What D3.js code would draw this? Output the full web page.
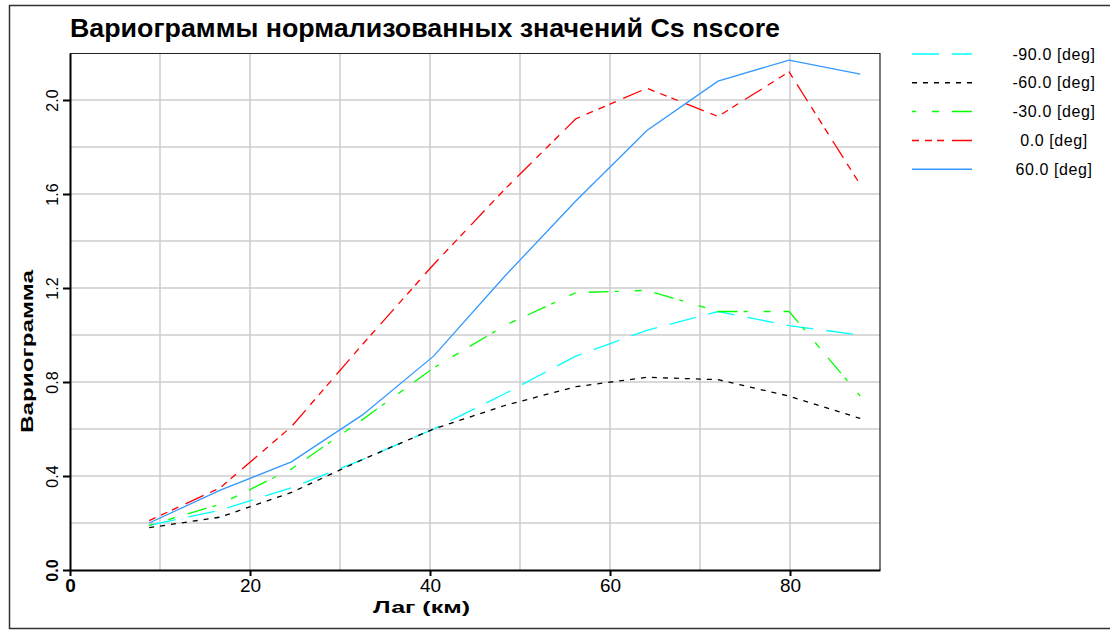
<!DOCTYPE html>
<html>
<head>
<meta charset="utf-8">
<script src="https://cdn.jsdelivr.net/npm/d3@7"></script>
<style>
  body { margin: 0; background: #fff; }
  text { font-family: "Liberation Sans", Arial, sans-serif; }
</style>
</head>
<body>
<svg id="chart"></svg>
<script>
// lag values (km)
var lags = [8.8, 16.7, 24.6, 32.5, 40.4, 48.3, 56.2, 64.1, 72.0, 79.9, 87.8];

// variogram values per direction
var v_m90 = [0.19, 0.255, 0.35, 0.47, 0.60, 0.75, 0.91, 1.02, 1.10, 1.04, 1.00];
var v_m60 = [0.18, 0.225, 0.33, 0.47, 0.60, 0.70, 0.78, 0.82, 0.81, 0.74, 0.645];
var v_m30 = [0.19, 0.28, 0.43, 0.64, 0.86, 1.04, 1.18, 1.19, 1.10, 1.10, 0.74];
var v_0   = [0.21, 0.35, 0.61, 0.96, 1.30, 1.62, 1.92, 2.05, 1.93, 2.12, 1.64];
var v_60  = [0.20, 0.34, 0.46, 0.66, 0.91, 1.25, 1.57, 1.87, 2.08, 2.17, 2.11];

var seriesNames = ['-90.0 [deg]', '-60.0 [deg]', '-30.0 [deg]', '0.0 [deg]', '60.0 [deg]'];
var xTicks = [0, 20, 40, 60, 80];
var yTicks = [0.0, 0.4, 0.8, 1.2, 1.6, 2.0];

var series = [
  {name: seriesNames[0], values: v_m90, color: '#00ffff', dash: '27,13'},
  {name: seriesNames[1], values: v_m60, color: '#000000', dash: '5,6'},
  {name: seriesNames[2], values: v_m30, color: '#00ff00', dash: '4,16,7,13,20,6'},
  {name: seriesNames[3], values: v_0,   color: '#ff0000', dash: '7,6,7,5,7,8,20,7'},
  {name: seriesNames[4], values: v_60,  color: '#3399ff', dash: null}
];

var width = 1110, height = 630;
var margin = {top: 53, right: 230, bottom: 60, left: 70};
var w = 880 - margin.left;
var h = 570 - margin.top;

var svg = d3.select('#chart')
  .attr('width', width)
  .attr('height', height);

// outer frame
svg.append('rect')
  .attr('x', 9.5).attr('y', 5.5)
  .attr('width', 1110).attr('height', 623)
  .attr('fill', 'none')
  .attr('stroke', '#333')
  .attr('stroke-width', 1.5);

var g = svg.append('g')
  .attr('transform', 'translate(' + margin.left + ',' + margin.top + ')');

var x = d3.scaleLinear().domain([0, 90]).range([0, w]);
var y = d3.scaleLinear().domain([0, 2.2]).range([h, 0]);

// grid
g.append('g').selectAll('line')
  .data(d3.range(10, 90, 10))
  .enter().append('line')
    .attr('x1', d => x(d)).attr('x2', d => x(d))
    .attr('y1', 0).attr('y2', h)
    .attr('stroke', '#cccccc').attr('stroke-width', 1.5);

g.append('g').selectAll('line')
  .data(d3.range(1, 11).map(d => d * 0.2))
  .enter().append('line')
    .attr('x1', 0).attr('x2', w)
    .attr('y1', d => y(d)).attr('y2', d => y(d))
    .attr('stroke', '#cccccc').attr('stroke-width', 1.5);

// frame top/right
g.append('path')
  .attr('d', 'M0,0.5H' + w + 'V' + h)
  .attr('fill', 'none')
  .attr('stroke', '#222')
  .attr('stroke-width', 1.2);

// lines
var line = d3.line()
  .x((d, i) => x(lags[i]))
  .y(d => y(d));

g.selectAll('.series')
  .data(series)
  .enter().append('path')
    .attr('class', 'series')
    .attr('d', d => line(d.values))
    .attr('fill', 'none')
    .attr('stroke', d => d.color)
    .attr('stroke-width', 1.3)
    .attr('stroke-dasharray', d => d.dash);

// axes
var xAxis = g.append('g')
  .attr('transform', 'translate(0,' + h + ')')
  .call(d3.axisBottom(x).tickValues(xTicks).tickSize(6).tickSizeOuter(0).tickPadding(3));
xAxis.select('.domain').attr('stroke', '#000').attr('stroke-width', 2);
xAxis.selectAll('.tick line').attr('stroke', '#000').attr('stroke-width', 2);
xAxis.selectAll('.tick text')
  .attr('font-size', 19)
  .attr('font-family', '"DejaVu Sans", sans-serif')
  .attr('fill', '#000')
  .attr('font-weight', d => d === 0 ? 'bold' : 'normal');

var yAxis = g.append('g')
  .call(d3.axisLeft(y).tickValues(yTicks).tickSize(7).tickSizeOuter(0).tickFormat(d3.format('.1f')));
yAxis.select('.domain').attr('stroke', '#000').attr('stroke-width', 2);
yAxis.selectAll('.tick line').attr('stroke', '#000').attr('stroke-width', 2);
yAxis.selectAll('.tick text')
  .attr('font-size', 16)
  .attr('font-family', '"Liberation Sans", Arial, sans-serif')
  .attr('fill', '#000')
  .attr('font-weight', d => d === 0 ? 'bold' : 'normal')
  .attr('transform', 'rotate(-90)')
  .attr('x', 0)
  .attr('y', -18)
  .attr('dy', '0.35em')
  .attr('text-anchor', 'middle');

// titles
svg.append('text')
  .attr('x', 70)
  .attr('y', 37)
  .attr('font-size', 26)
  .attr('font-weight', 'bold')
  .attr('textLength', 710)
  .attr('lengthAdjust', 'spacingAndGlyphs')
  .text('Вариограммы нормализованных значений Cs nscore');

svg.append('text')
  .attr('x', 373)
  .attr('y', 613)
  .attr('font-family', '"DejaVu Sans", sans-serif')
  .attr('font-size', 17)
  .attr('font-weight', 'bold')
  .attr('textLength', 97)
  .attr('lengthAdjust', 'spacingAndGlyphs')
  .text('Лаг (км)');

svg.append('text')
  .attr('transform', 'translate(33,433) rotate(-90)')
  .attr('font-family', '"DejaVu Sans", sans-serif')
  .attr('font-size', 17)
  .attr('font-weight', 'bold')
  .attr('textLength', 163)
  .attr('lengthAdjust', 'spacingAndGlyphs')
  .text('Вариограмма');

// legend
var legend = svg.append('g')
  .selectAll('g')
  .data(series)
  .enter().append('g')
    .attr('transform', (d, i) => 'translate(0,' + (54 + i * 28.8) + ')');

legend.append('line')
  .attr('x1', 912).attr('x2', 972)
  .attr('y1', 0).attr('y2', 0)
  .attr('stroke', d => d.color)
  .attr('stroke-width', 1.5)
  .attr('stroke-dasharray', d => d.dash);

legend.append('text')
  .attr('x', 1054)
  .attr('y', 0)
  .attr('dy', '0.35em')
  .attr('text-anchor', 'middle')
  .attr('font-family', '"DejaVu Sans", sans-serif')
  .attr('font-size', 16)
  .attr('letter-spacing', 0.6)
  .text(d => d.name);
</script>
</body>
</html>
